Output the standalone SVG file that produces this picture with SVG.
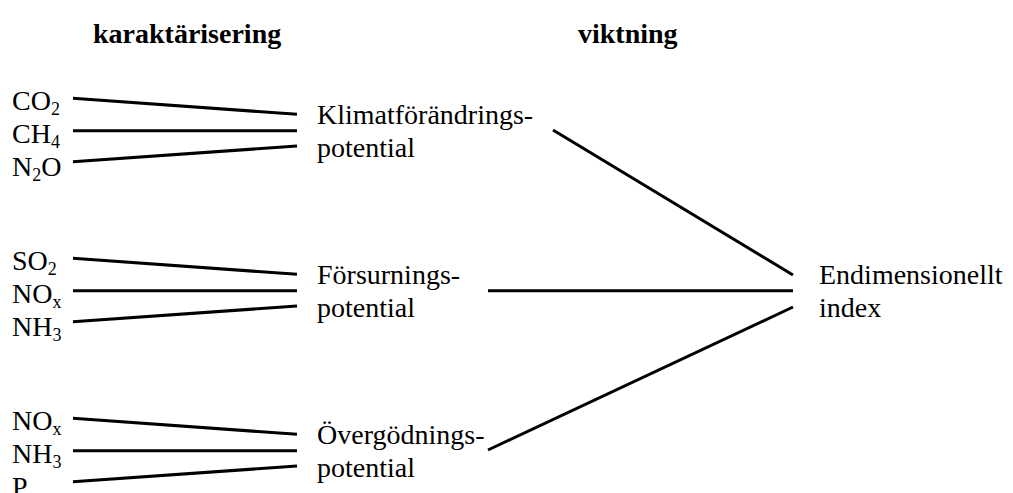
<svg xmlns="http://www.w3.org/2000/svg" width="1013" height="493" viewBox="0 0 1013 493">
<style>
text{font-size:28px;fill:#000}
.t{font-weight:bold}
.s{font-size:18px}
line{stroke:#000;stroke-width:3;stroke-linecap:butt}
</style>
<rect width="1013" height="493" fill="#fff"/>
<g font-family="Liberation Serif, serif">
<g id="titles">
<text class="t" x="93" y="43">karaktärisering</text>
<text class="t" x="578" y="43">viktning</text>
</g>
<g id="n-co2"><text x="12" y="110">CO<tspan class="s" dy="5">2</tspan></text></g>
<g id="n-ch4"><text x="12" y="143">CH<tspan class="s" dy="5">4</tspan></text></g>
<g id="n-n2o"><text x="12" y="176">N<tspan class="s" dy="5">2</tspan><tspan dy="-5">O</tspan></text></g>
<g id="n-so2"><text x="12" y="270">SO<tspan class="s" dy="5">2</tspan></text></g>
<g id="n-nox1"><text x="12" y="303">NO<tspan class="s" dy="5">x</tspan></text></g>
<g id="n-nh31"><text x="12" y="336">NH<tspan class="s" dy="5">3</tspan></text></g>
<g id="n-nox2"><text x="12" y="430">NO<tspan class="s" dy="5">x</tspan></text></g>
<g id="n-nh32"><text x="12" y="463">NH<tspan class="s" dy="5">3</tspan></text></g>
<g id="n-p"><text x="12" y="496">P</text></g>
<g id="n-klimat"><text x="317" y="124">Klimatförändrings-</text><text x="317" y="157">potential</text></g>
<g id="n-forsurning"><text x="317" y="284">Försurnings-</text><text x="317" y="317">potential</text></g>
<g id="n-overgodning"><text x="317" y="444">Övergödnings-</text><text x="317" y="477">potential</text></g>
<g id="n-index"><text x="819" y="284">Endimensionellt</text><text x="819" y="317">index</text></g>
</g>
<g id="connectors">
<line x1="73" y1="98.3" x2="297" y2="114.3"/>
<line x1="73" y1="130.7" x2="297" y2="130.7"/>
<line x1="73" y1="161.7" x2="297" y2="146"/>
<line x1="73" y1="258.3" x2="297" y2="274.3"/>
<line x1="73" y1="290.7" x2="297" y2="290.7"/>
<line x1="73" y1="321.7" x2="297" y2="306"/>
<line x1="73" y1="418.3" x2="297" y2="434.3"/>
<line x1="73" y1="450.7" x2="297" y2="450.7"/>
<line x1="73" y1="481.7" x2="297" y2="466"/>
<line x1="553" y1="130" x2="793" y2="275"/>
<line x1="488" y1="290.7" x2="793" y2="290.7"/>
<line x1="488" y1="450" x2="793" y2="307"/>
</g>
</svg>
